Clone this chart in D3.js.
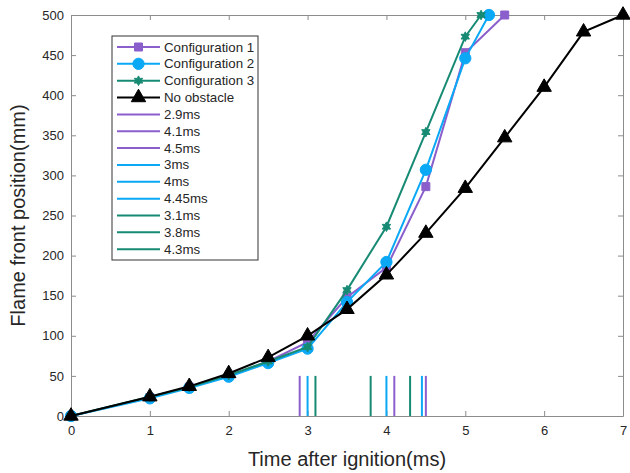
<!DOCTYPE html>
<html>
<head>
<meta charset="utf-8">
<script src="https://cdn.jsdelivr.net/npm/d3@7"></script>
<style>
  body { margin: 0; background: #fff; }
  svg { font-family: Arial, "Liberation Sans", sans-serif; }
</style>
</head>
<body>
<div id="chart"></div>
<script>
// 數據
const timeConfig1 = [0, 1, 1.5, 2, 2.5, 3, 3.5, 4, 4.5, 5, 5.5];
const config1 = [0, 23, 36, 50, 68, 92, 148, 185, 286, 453, 500];
const timeConfig2 = [0, 1, 1.5, 2, 2.5, 3, 3.5, 4, 4.5, 5, 5.3];
const config2 = [0, 22, 35, 49, 66, 84, 142, 192, 307, 446, 500];
const timeConfig3 = [0, 1, 1.5, 2, 2.5, 3, 3.5, 4, 4.5, 5, 5.2];
const config3 = [0, 24, 36, 51, 68, 86, 157, 236, 354, 473, 500];
const timeNoObstacle = [0, 1, 1.5, 2, 2.5, 3, 3.5, 4, 4.5, 5, 5.5, 6, 6.5, 7];
const noObstacle = [0, 24, 37, 53, 73, 100, 133, 176, 228, 284, 347, 410, 479, 500];

const markTimes = [2.9, 4.1, 4.5, 3, 4, 4.45, 3.1, 3.8, 4.3];
const markLabels = ["2.9ms", "4.1ms", "4.5ms", "3ms", "4ms", "4.45ms", "3.1ms", "3.8ms", "4.3ms"];
const markGroup = [0, 0, 0, 1, 1, 1, 2, 2, 2];
const markHeight = 50;

const colors = ["#8a5fcc", "#0aa8f5", "#178a74", "#000000"];
const seriesNames = ["Configuration 1", "Configuration 2", "Configuration 3", "No obstacle"];

const xTicks = [0, 1, 2, 3, 4, 5, 6, 7];
const yTicks = [0, 50, 100, 150, 200, 250, 300, 350, 400, 450, 500];

// 生成svg
const margin = {top: 15, right: 7, bottom: 57, left: 71};
const width = 630 - margin.left - margin.right;
const height = 473 - margin.top - margin.bottom;

const svg = d3.select("#chart")
    .append("svg")
    .attr("width", 630)
    .attr("height", 473)
    .append("g")
    .attr("transform", `translate(${margin.left},${margin.top})`);

// 比例尺
const x = d3.scaleLinear().domain([0, 7]).range([0, width]);
const y = d3.scaleLinear().domain([0, 500]).range([height, 0]);

// 座標軸
const axisColor = "#8c8c8c";
const textColor = "#262626";

function styleAxis(g) {
    g.select(".domain").attr("stroke", axisColor);
    g.selectAll(".tick line").attr("stroke", axisColor);
    g.selectAll(".tick text").attr("fill", textColor).style("font-size", "13px");
}

svg.append("g")
    .attr("transform", `translate(0,${height})`)
    .call(d3.axisBottom(x).tickValues(xTicks).tickFormat(d3.format("d")).tickSize(-5).tickSizeOuter(0).tickPadding(10))
    .call(styleAxis);

svg.append("g")
    .call(d3.axisLeft(y).tickValues(yTicks).tickSize(-5).tickSizeOuter(0).tickPadding(7))
    .call(styleAxis);

svg.append("g")
    .call(d3.axisTop(x).tickValues(xTicks).tickSize(-5).tickSizeOuter(0).tickFormat(""))
    .call(styleAxis);

svg.append("g")
    .attr("transform", `translate(${width},0)`)
    .call(d3.axisRight(y).tickValues(yTicks).tickSize(-5).tickSizeOuter(0).tickFormat(""))
    .call(styleAxis);

// 軸標題
svg.append("text")
    .attr("x", width / 2)
    .attr("y", height + 50)
    .attr("text-anchor", "middle")
    .attr("fill", textColor)
    .style("font-size", "20px")
    .text("Time after ignition(ms)");

svg.append("text")
    .attr("transform", "rotate(-90)")
    .attr("x", -height / 2)
    .attr("y", -46)
    .attr("text-anchor", "middle")
    .attr("fill", textColor)
    .style("font-size", "20px")
    .text("Flame front position(mm)");

// 垂直標記線
svg.selectAll(".mark")
    .data(markTimes)
    .enter()
    .append("line")
    .attr("x1", d => x(d))
    .attr("x2", d => x(d))
    .attr("y1", y(0))
    .attr("y2", y(markHeight))
    .attr("stroke", (d, i) => colors[markGroup[i]])
    .attr("stroke-width", 2);

// 六角星 (MATLAB hexagram)
const hexagram = {
    draw(context, size) {
        const r = Math.sqrt(size) * 0.62;
        const ri = r * 0.55;
        for (let i = 0; i < 12; i++) {
            const a = -Math.PI / 2 + i * Math.PI / 6;
            const rr = i % 2 === 0 ? r : ri;
            if (i === 0) context.moveTo(rr * Math.cos(a), rr * Math.sin(a));
            else context.lineTo(rr * Math.cos(a), rr * Math.sin(a));
        }
        context.closePath();
    }
};

// 標記符號
const square = d3.symbol().type(d3.symbolSquare).size(64);
const circle = d3.symbol().type(d3.symbolCircle).size(100);
const star = d3.symbol().type(hexagram).size(60);
const triangle = d3.symbol().type(d3.symbolTriangle).size(90);
const symbols = [square, circle, star, triangle];

const series = [
    {t: timeConfig1, v: config1},
    {t: timeConfig2, v: config2},
    {t: timeConfig3, v: config3},
    {t: timeNoObstacle, v: noObstacle}
];

const line = d3.line().x(d => x(d[0])).y(d => y(d[1]));

series.forEach((s, k) => {
    const pts = s.t.map((t, i) => [t, s.v[i]]);
    svg.append("path")
        .datum(pts)
        .attr("fill", "none")
        .attr("stroke", colors[k])
        .attr("stroke-width", 2)
        .attr("d", line);
    svg.selectAll(".pt" + k)
        .data(pts)
        .enter()
        .append("path")
        .attr("transform", d => `translate(${x(d[0])},${y(d[1])})`)
        .attr("d", symbols[k]())
        .attr("fill", colors[k])
        .attr("stroke", colors[k]);
});

// 圖例
const legend = svg.append("g").attr("transform", "translate(41,21)");
const rowH = 16.85;
const legendItems = seriesNames.map((n, i) => ({name: n, color: colors[i], sym: symbols[i]}))
    .concat(markLabels.map((n, i) => ({name: n, color: colors[markGroup[i]], sym: null})));

legend.append("rect")
    .attr("width", 146)
    .attr("height", 224)
    .attr("fill", "#fff")
    .attr("stroke", "#333")
    .attr("stroke-width", 1);

legendItems.forEach((d, i) => {
    const cy = 11 + i * rowH;
    legend.append("line")
        .attr("x1", 5).attr("x2", 48)
        .attr("y1", cy).attr("y2", cy)
        .attr("stroke", d.color)
        .attr("stroke-width", 2);
    if (d.sym) {
        legend.append("path")
            .attr("transform", `translate(26.5,${cy})`)
            .attr("d", d.sym())
            .attr("fill", d.color)
            .attr("stroke", d.color);
    }
    legend.append("text")
        .attr("x", 52)
        .attr("y", cy + 4.5)
        .attr("fill", textColor)
        .style("font-size", "13.3px")
        .text(d.name);
});
</script>
</body>
</html>
